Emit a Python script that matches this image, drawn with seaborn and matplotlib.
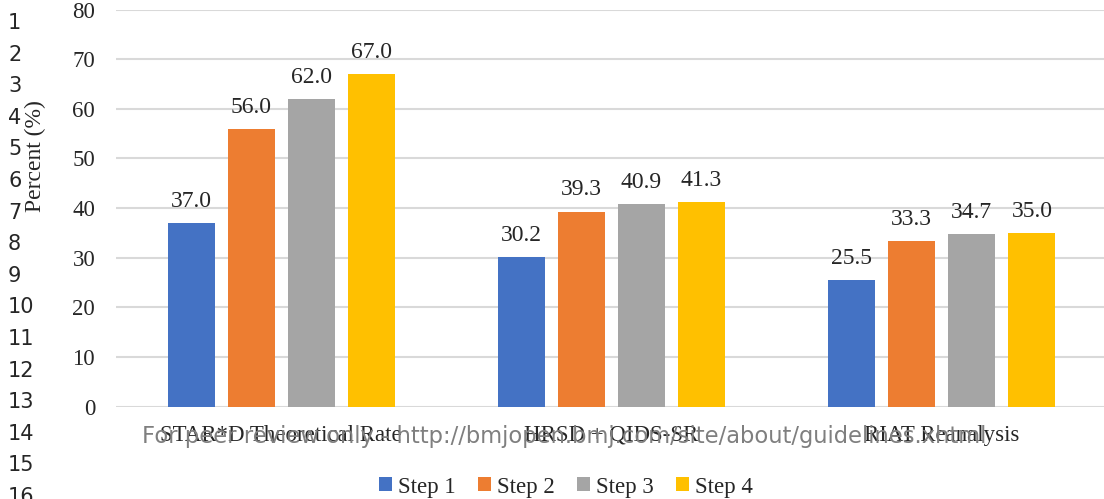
import pandas as pd
import matplotlib
matplotlib.use("Agg")
import matplotlib.pyplot as plt
import seaborn as sns

# data
categories = ["STAR*D Theoretical Rate", "HRSD + QIDS-SR", "RIAT Reanalysis"]
steps = ["Step 1", "Step 2", "Step 3", "Step 4"]
step1 = [37.0, 30.2, 25.5]
step2 = [56.0, 39.3, 33.3]
step3 = [62.0, 40.9, 34.7]
step4 = [67.0, 41.3, 35.0]
colors = ["#4472C4", "#ED7D31", "#A5A5A5", "#FFC000"]
yticks = [0, 10, 20, 30, 40, 50, 60, 70, 80]

rows = []
for step, vals in zip(steps, [step1, step2, step3, step4]):
    for cat, v in zip(categories, vals):
        rows.append({"Category": cat, "Step": step, "Percent": v})
df = pd.DataFrame(rows)

sns.set_style("white")
plt.rcParams["font.family"] = ["Liberation Serif", "DejaVu Serif"]

fig = plt.figure(figsize=(11.04, 4.99), dpi=100)
ax = fig.add_axes([116 / 1104, 92.3 / 499, 991 / 1104, 397.2 / 499])

sns.barplot(data=df, x="Category", y="Percent", hue="Step", palette=colors,
            width=0.727, gap=0.217, linewidth=0, saturation=1, ax=ax)

for cont in ax.containers:
    ax.bar_label(cont, fmt="%.1f", padding=8, fontsize=17)

ax.set_ylim(0, 80)
ax.set_yticks(yticks)
ax.yaxis.grid(True, color="#D9D9D9", linewidth=1.5)
ax.set_axisbelow(True)
for s in ax.spines.values():
    s.set_visible(False)
ax.tick_params(axis="y", length=0, pad=15, labelsize=16.5)
ax.tick_params(axis="x", length=0, pad=13, labelsize=16.5)
ax.set_xlabel("")
ax.set_ylabel("Percent (%)", fontsize=17)
ax.yaxis.set_label_coords(-0.071, 0.63)

ax.legend(loc="center", bbox_to_anchor=(566 / 1104, 12 / 499),
          bbox_transform=fig.transFigure, ncol=4, frameon=False,
          fontsize=16.5, handlelength=0.55, handleheight=0.55,
          handletextpad=0.25, columnspacing=1.0)

# margin line numbers and watermark from the source page
for i in range(1, 17):
    fig.text(8 / 1104, 1 - (23 + (i - 1) * 31.6) / 499, str(i),
             fontsize=15, family="DejaVu Sans", va="center", ha="left")
fig.text(142 / 1104, 1 - 436 / 499,
         "For peer review only - http://bmjopen.bmj.com/site/about/guidelines.xhtml",
         fontsize=16.3, family="DejaVu Sans", color="#7F7F7F",
         va="center", ha="left")

fig.savefig("out.png", dpi=100)
